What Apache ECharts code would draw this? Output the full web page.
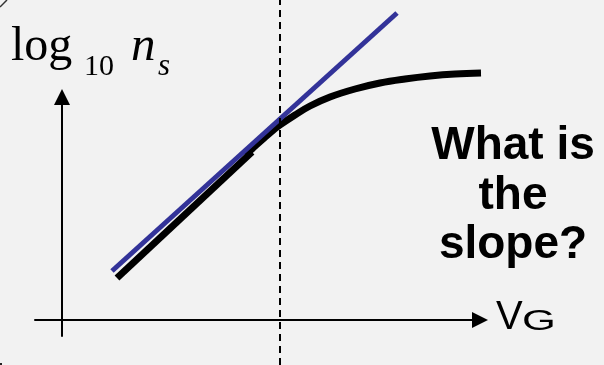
<!DOCTYPE html>
<html><head><meta charset="utf-8">
<script src="https://cdn.jsdelivr.net/npm/echarts@6/dist/echarts.min.js"></script>
<style>html,body{margin:0;padding:0;background:#f2f2f2;overflow:hidden}#c{width:604px;height:365px}</style>
</head><body><div id="c"></div>
<script>
// Schematic units: horizontal = V_G, vertical = log10 ns (arbitrary units, origin at the axes crossing)
const tangentX = [5.0, 33.5];
const tangentY = [4.9, 30.7];
const linearX = [5.5, 19.0];
const linearY = [4.2, 16.8];
const satX = [18.3, 19.1, 20.0, 20.9, 21.8, 23.3, 24.8, 26.8, 29.3, 31.8, 34.3, 36.8, 39.3, 41.9];
const satY = [16.5, 17.2, 18.0, 18.8, 19.5, 20.5, 21.4, 22.3, 23.1, 23.7, 24.1, 24.4, 24.6, 24.7];
const thresholdX = 21.8;
const xRange = [-6.2, 54.2];
const yRange = [-4.5, 32.0];

const zip = (a, b) => a.map((v, i) => [v, b[i]]);
const chart = echarts.init(document.getElementById('c'), null, {renderer: 'canvas'});
const hiddenAxis = (gi, extra) => Object.assign({gridIndex: gi, type: 'value', show: false}, extra || {});
const arrowAxis = (gi) => ({
  gridIndex: gi, type: 'value', min: 0, max: 1,
  axisLine: {show: true, onZero: false, symbol: ['none', 'triangle'], symbolSize: [16, 16],
    lineStyle: {color: '#000', width: 2}},
  axisTick: {show: false}, axisLabel: {show: false}, splitLine: {show: false}
});
const serif = '"Liberation Serif", "Times New Roman", serif';
const sans = '"Liberation Sans", Arial, sans-serif';

chart.setOption({
  animation: false,
  backgroundColor: '#f2f2f2',
  grid: [
    {left: 0, right: 0, top: 0, bottom: 0, containLabel: false, outerBoundsMode: 'none'},
    {left: 35, right: 124, top: 0, bottom: 45, containLabel: false, outerBoundsMode: 'none'},
    {left: 62, right: 0, top: 97, bottom: 29, containLabel: false, outerBoundsMode: 'none'}
  ],
  xAxis: [
    hiddenAxis(0, {min: xRange[0], max: xRange[1]}),
    arrowAxis(1),
    hiddenAxis(2, {min: 0, max: 1})
  ],
  yAxis: [
    hiddenAxis(0, {min: yRange[0], max: yRange[1]}),
    hiddenAxis(1, {min: 0, max: 1}),
    arrowAxis(2)
  ],
  series: [
    {type: 'line', xAxisIndex: 0, yAxisIndex: 0, data: zip(linearX, linearY), showSymbol: false,
      lineStyle: {color: '#000', width: 7, cap: 'butt'}, silent: true},
    {type: 'line', xAxisIndex: 0, yAxisIndex: 0, data: zip(satX, satY), showSymbol: false,
      smooth: 0.4, lineStyle: {color: '#000', width: 7, cap: 'butt'}, silent: true,
      markLine: {silent: true, symbol: ['none', 'none'], label: {show: false},
        lineStyle: {color: '#000', width: 2, type: [7, 5]},
        data: [{xAxis: thresholdX}]}},
    {type: 'line', xAxisIndex: 0, yAxisIndex: 0, data: zip(tangentX, tangentY), showSymbol: false,
      lineStyle: {color: '#333399', width: 5, cap: 'butt'}, silent: true}
  ],
  graphic: [
    {type: 'line', shape: {x1: 0, y1: 7, x2: 7, y2: 0}, style: {stroke: '#333', lineWidth: 1.5}},
    {type: 'rect', shape: {x: 0, y: 363, width: 2, height: 2}, style: {fill: '#222'}},
    {type: 'text', x: 11, y: 47.8, style: {text: 'log', font: '48px ' + serif, fill: '#000', verticalAlign: 'middle'}},
    {type: 'text', x: 84, y: 66.9, style: {text: '10', font: '30px ' + serif, fill: '#000', verticalAlign: 'middle'}},
    {type: 'text', x: 131, y: 46.8, style: {text: 'n', font: 'italic 49px ' + serif, fill: '#000', verticalAlign: 'middle'}},
    {type: 'text', x: 158, y: 66.9, style: {text: 's', font: 'italic 31px ' + serif, fill: '#000', verticalAlign: 'middle'}},
    {type: 'text', x: 513, y: 146.6, style: {text: 'What is', font: 'bold 46px ' + sans, fill: '#000', align: 'center', verticalAlign: 'middle'}},
    {type: 'text', x: 513, y: 196.1, style: {text: 'the', font: 'bold 46px ' + sans, fill: '#000', align: 'center', verticalAlign: 'middle'}},
    {type: 'text', x: 513, y: 245.1, style: {text: 'slope?', font: 'bold 46px ' + sans, fill: '#000', align: 'center', verticalAlign: 'middle'}},
    {type: 'text', x: 496, y: 318.1, style: {text: 'V', font: '40px ' + sans, fill: '#000', verticalAlign: 'middle'}},
    {type: 'text', x: 522, y: 321.6, scaleX: 1.45, style: {text: 'G', font: '30px ' + sans, fill: '#000', verticalAlign: 'middle'}}
  ]
});
</script></body></html>
